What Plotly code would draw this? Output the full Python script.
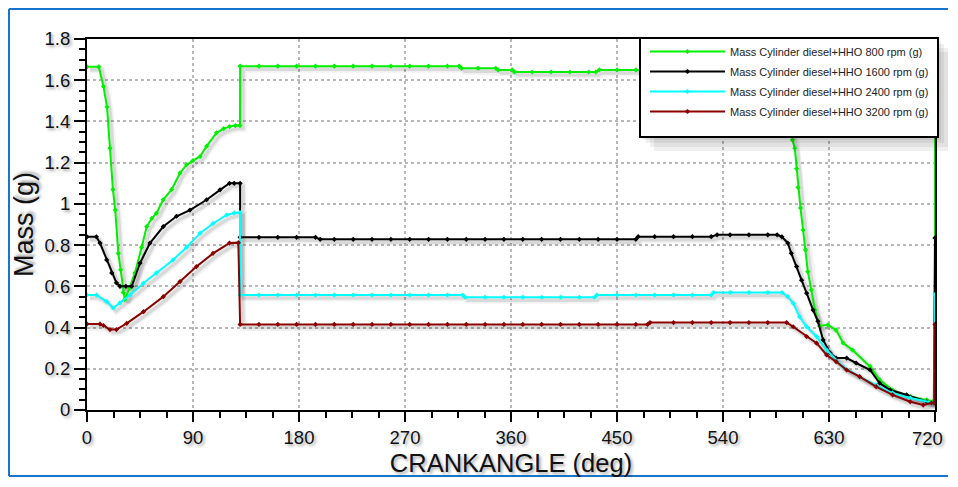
import plotly.graph_objects as go

# ---------------- data ----------------
angle_800 = [0, 10, 14, 17, 19.5, 22, 24, 26.6, 28.6, 30.7,
             32, 36, 40.7, 46.4, 50.7, 55, 59, 64.7, 71.9, 79,
             84.6, 90, 96, 101.6, 110, 116, 121, 126, 129.9, 130,
             146, 162, 178, 194, 210, 226, 242, 258, 274, 290,
             306, 316, 318, 332, 347, 349, 361, 363, 378, 394,
             410, 426, 432, 435, 450, 466, 482, 498, 514, 530,
             546, 562, 578, 592, 596, 599, 601, 602.5, 603.7, 605.8,
             608, 610, 612, 615, 618, 622, 629, 636, 642, 650,
             665, 673, 684, 699, 713, 718, 720, 720]
mass_800 = [1.665, 1.665, 1.57, 1.47, 1.27, 1.07, 0.97, 0.76, 0.68, 0.57,
            0.535, 0.59, 0.665, 0.79, 0.89, 0.93, 0.955, 1.02, 1.07, 1.15,
            1.19, 1.21, 1.23, 1.28, 1.345, 1.365, 1.375, 1.38, 1.38, 1.668,
            1.668, 1.668, 1.668, 1.668, 1.668, 1.668, 1.668, 1.668, 1.668, 1.668,
            1.668, 1.668, 1.658, 1.658, 1.658, 1.65, 1.65, 1.64, 1.64, 1.64,
            1.64, 1.64, 1.64, 1.65, 1.65, 1.65, 1.65, 1.65, 1.65, 1.65,
            1.65, 1.65, 1.65, 1.65, 1.5, 1.31, 1.27, 1.17, 1.08, 0.98,
            0.873, 0.777, 0.671, 0.583, 0.485, 0.408, 0.413, 0.388, 0.325, 0.291,
            0.21, 0.146, 0.097, 0.065, 0.049, 0.04, 0.04, 1.665]

angle_1600 = [0, 8, 11, 16.7, 21, 25, 28, 33, 38, 45,
              53.5, 64.8, 76, 87.4, 101.6, 113, 121, 125, 130, 130,
              146, 162, 178, 194, 198, 210, 226, 242, 258, 274,
              290, 306, 322, 338, 354, 370, 386, 402, 418, 434,
              450, 466, 468, 482, 498, 514, 530, 535, 546, 562,
              578, 586, 590, 595, 598, 602.5, 606.7, 611, 616.5, 620.6,
              625, 631, 636, 645, 653, 665, 673, 682, 696, 713,
              719, 720]
mass_1600 = [0.84, 0.84, 0.81, 0.728, 0.665, 0.617, 0.6, 0.6, 0.6, 0.713,
             0.81, 0.89, 0.94, 0.97, 1.02, 1.068, 1.1, 1.1, 1.1, 0.838,
             0.838, 0.838, 0.838, 0.838, 0.828, 0.828, 0.828, 0.828, 0.828, 0.828,
             0.828, 0.828, 0.828, 0.828, 0.828, 0.828, 0.828, 0.828, 0.828, 0.828,
             0.828, 0.828, 0.841, 0.841, 0.841, 0.841, 0.841, 0.85, 0.85, 0.85,
             0.85, 0.85, 0.84, 0.81, 0.76, 0.696, 0.63, 0.567, 0.485, 0.43,
             0.34, 0.277, 0.252, 0.252, 0.228, 0.194, 0.13, 0.097, 0.073, 0.04,
             0.035, 0.835]

angle_2400 = [0, 8, 16.7, 22.3, 28, 36.5, 48, 59, 73, 84.6,
              96, 107, 118.6, 125, 129.9, 130, 146, 162, 178, 194,
              210, 226, 242, 258, 274, 290, 306, 319, 321, 338,
              354, 370, 386, 402, 418, 431, 433, 450, 466, 482,
              498, 514, 530, 532, 546, 562, 578, 590, 595, 599.6,
              605, 611, 619.5, 628, 642, 656, 670, 684, 699, 717,
              719.5, 720]
mass_2400 = [0.558, 0.558, 0.526, 0.495, 0.52, 0.558, 0.616, 0.665, 0.728, 0.79,
             0.858, 0.905, 0.946, 0.956, 0.958, 0.558, 0.558, 0.558, 0.558, 0.558,
             0.558, 0.558, 0.558, 0.558, 0.558, 0.558, 0.558, 0.558, 0.547, 0.547,
             0.547, 0.547, 0.547, 0.547, 0.547, 0.547, 0.558, 0.558, 0.558, 0.558,
             0.558, 0.558, 0.558, 0.57, 0.57, 0.57, 0.57, 0.57, 0.55, 0.518,
             0.453, 0.404, 0.356, 0.291, 0.21, 0.162, 0.121, 0.082, 0.058, 0.034,
             0.034, 0.56]

angle_3200 = [0, 11, 14, 19.5, 25, 33.7, 48, 64.8, 79, 93,
              107, 121, 128.5, 130, 146, 162, 178, 194, 210, 226,
              242, 258, 274, 290, 306, 322, 338, 354, 370, 386,
              402, 418, 434, 450, 466, 476, 478, 498, 514, 530,
              546, 562, 578, 594, 599.6, 611, 619.5, 628, 636, 645,
              656, 670, 684, 699, 710, 717, 719.5, 720]
mass_3200 = [0.417, 0.417, 0.41, 0.39, 0.39, 0.42, 0.477, 0.55, 0.623, 0.696,
             0.76, 0.81, 0.812, 0.415, 0.415, 0.415, 0.415, 0.415, 0.415, 0.415,
             0.415, 0.415, 0.415, 0.415, 0.415, 0.415, 0.415, 0.415, 0.415, 0.415,
             0.415, 0.415, 0.415, 0.415, 0.415, 0.415, 0.424, 0.424, 0.424, 0.424,
             0.424, 0.424, 0.424, 0.424, 0.404, 0.356, 0.324, 0.267, 0.235, 0.194,
             0.162, 0.113, 0.073, 0.04, 0.024, 0.034, 0.034, 0.415]

series_names = ["Mass Cylinder diesel+HHO 800 rpm (g)",
                "Mass Cylinder diesel+HHO 1600 rpm (g)",
                "Mass Cylinder diesel+HHO 2400 rpm (g)",
                "Mass Cylinder diesel+HHO 3200 rpm (g)"]
series_colors = ["#00f000", "#000000", "#00ffff", "#8b0000"]
x_tick_values = [0, 90, 180, 270, 360, 450, 540, 630, 720]
x_tick_labels = ["0", "90", "180", "270", "360", "450", "540", "630", "720"]

series = [(angle_800, mass_800), (angle_1600, mass_1600),
          (angle_2400, mass_2400), (angle_3200, mass_3200)]

# ---------------- figure ----------------
W, H = 940, 469            # page body adds an 8 px margin; keep the page from overflowing
ML, MR, MT, MB = 79, 13, 31, 67
PW, PH = W - ML - MR, H - MT - MB
XMAX, YMAX = 720, 1.8
shadow_dx = 3 * XMAX / PW      # shadow offset of 3 px, in axis units
shadow_dy = 3 * YMAX / PH


def px_x(p):   # figure pixel -> paper x
    return (p - ML) / PW


def px_y(p):   # figure pixel -> paper y
    return (MT + PH - p) / PH


fig = go.Figure()

# soft shadows on the (hidden) base axes, slightly shifted
for (xs, ys) in series:
    fig.add_trace(go.Scatter(x=xs, y=ys, mode="lines", xaxis="x", yaxis="y",
                             line=dict(color="rgba(0,0,0,0.05)", width=7),
                             showlegend=False, hoverinfo="skip"))
    fig.add_trace(go.Scatter(x=xs, y=ys, mode="lines", xaxis="x", yaxis="y",
                             line=dict(color="rgba(0,0,0,0.10)", width=3.5),
                             showlegend=False, hoverinfo="skip"))

for i, ((xs, ys), name, col) in enumerate(zip(series, series_names, series_colors)):
    fig.add_trace(go.Scatter(x=xs, y=ys, mode="lines+markers", name=name,
                             xaxis="x2", yaxis="y2", legendgroup=f"g{i}",
                             line=dict(color=col, width=2),
                             marker=dict(symbol="diamond", size=4, color=col)))

txt_shadow = "2px 2px 3px rgba(0,0,0,0.35)"
tick_font = dict(family="Liberation Sans, Arial", size=18.5, color="#111",
                 shadow=txt_shadow)

# the last tick label sits at the right edge of the page: draw it as an
# annotation nudged slightly left so it is not cut off
shown_labels = x_tick_labels[:-1] + [""]

fig.update_layout(
    width=W, height=H,
    margin=dict(l=ML, r=MR, t=MT, b=MB, autoexpand=False),
    paper_bgcolor="#f2f2f2", plot_bgcolor="white",
    font=dict(family="Liberation Sans, Arial", color="#111"),
    xaxis=dict(range=[-shadow_dx, XMAX - shadow_dx], visible=False,
               showgrid=False, zeroline=False),
    yaxis=dict(range=[shadow_dy, YMAX + shadow_dy], visible=False,
               showgrid=False, zeroline=False),
    xaxis2=dict(overlaying="x", anchor="y2", range=[0, XMAX],
                tickvals=x_tick_values, ticktext=shown_labels,
                tickfont=tick_font, ticklabeloverflow="allow",
                showline=True, linecolor="black", linewidth=2, mirror=True,
                ticks="outside", ticklen=10, tickwidth=2, tickcolor="black",
                minor=dict(dtick=22.5, ticks="outside", ticklen=6, tickwidth=1.5,
                           tickcolor="black", showgrid=False),
                showgrid=True, gridcolor="#b8b8b8", gridwidth=1.5, griddash="dot",
                zeroline=False,
                title=dict(text="CRANKANGLE (deg)", standoff=8,
                           font=dict(size=25.5, family="Liberation Sans, Arial",
                                     shadow=txt_shadow))),
    yaxis2=dict(overlaying="y", anchor="x2", range=[0, YMAX], dtick=0.2,
                tickfont=tick_font, ticklabeloverflow="allow",
                showline=True, linecolor="black", linewidth=2, mirror=True,
                ticks="outside", ticklen=11, tickwidth=2, tickcolor="black",
                minor=dict(dtick=0.05, ticks="outside", ticklen=6, tickwidth=1.5,
                           tickcolor="black", showgrid=False),
                showgrid=True, gridcolor="#b8b8b8", gridwidth=1.5, griddash="dot",
                zeroline=False,
                title=dict(text="Mass (g)", standoff=3,
                           font=dict(size=27, family="Liberation Sans, Arial",
                                     shadow=txt_shadow))),
    legend=dict(x=px_x(637), y=px_y(29), xanchor="left", yanchor="top",
                bgcolor="rgba(0,0,0,0)", borderwidth=0,
                font=dict(size=11, family="Liberation Sans, Arial", color="#222"),
                itemwidth=75, tracegroupgap=1),
    showlegend=True,
)

fig.add_annotation(x=x_tick_values[-1], y=0, xref="x2", yref="y2",
                   text=x_tick_labels[-1], showarrow=False,
                   xanchor="right", yanchor="middle", xshift=10, yshift=-28,
                   font=tick_font)

# outer blue frame: white panel + top, left and bottom blue edges
frame_l, frame_t, frame_b, frame_r = 1, 1, 468, W + 20
fig.add_shape(type="rect", xref="paper", yref="paper", layer="below",
              x0=px_x(frame_l), x1=px_x(frame_r), y0=px_y(frame_b), y1=px_y(frame_t),
              line=dict(width=0), fillcolor="white")
for (xa, ya, xb, yb) in [(frame_l, frame_t, frame_r, frame_t),
                         (frame_l, frame_t, frame_l, frame_b),
                         (frame_l, frame_b, frame_r, frame_b)]:
    fig.add_shape(type="line", xref="paper", yref="paper", layer="below",
                  x0=px_x(xa), y0=px_y(ya), x1=px_x(xb), y1=px_y(yb),
                  line=dict(color="#1874cd", width=2))

# legend box with a soft drop shadow
LB = (632, 30, 930, 129)   # left, top, right, bottom in figure pixels
for k in (14, 10, 6, 3):
    fig.add_shape(type="rect", xref="paper", yref="paper", layer="above",
                  x0=px_x(LB[0] + k), x1=px_x(LB[2] + k),
                  y0=px_y(LB[3] + k), y1=px_y(LB[1] + k),
                  line=dict(width=0), fillcolor="rgba(0,0,0,0.06)")
fig.add_shape(type="rect", xref="paper", yref="paper", layer="above",
              x0=px_x(LB[0]), x1=px_x(LB[2]), y0=px_y(LB[3]), y1=px_y(LB[1]),
              line=dict(color="black", width=2), fillcolor="white")

fig.write_html("out.html")
